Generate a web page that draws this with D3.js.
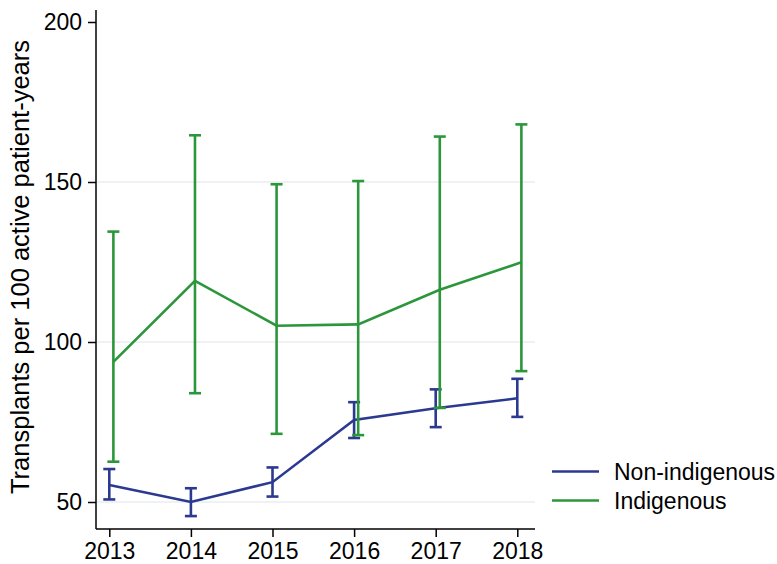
<!DOCTYPE html>
<html><head><meta charset="utf-8">
<script src="https://cdn.jsdelivr.net/npm/d3@7"></script>
<style>body{margin:0;background:#fff}svg{display:block;font-family:"Liberation Sans",Arial,sans-serif}</style>
</head><body>
<svg id="c" width="777" height="564"></svg>
<script>
const years = [2013, 2014, 2015, 2016, 2017, 2018];
const nonIndigenous = [55.3, 50.0, 56.2, 75.6, 79.3, 82.4];
const nonIndigenousLow = [50.8, 45.6, 51.7, 70.0, 73.4, 76.6];
const nonIndigenousHigh = [60.3, 54.3, 60.8, 81.2, 85.2, 88.5];
const indigenous = [93.8, 119.1, 105.1, 105.5, 116.3, 124.9];
const indigenousLow = [62.6, 84.0, 71.3, 70.9, 79.4, 90.9];
const indigenousHigh = [134.5, 164.6, 149.3, 150.3, 164.2, 168.0];
const yTicks = [50, 100, 150, 200];
const gridTicks = [50, 100, 150];
const seriesNames = ["Non-indigenous", "Indigenous"];
const colors = ["#2b3990", "#2c963b"];

(function () {
const svg = d3.select("#c");
const x = d3.scaleLinear().domain([2013, 2018]).range([109.3, 517.3]);
const y = d3.scaleLinear().domain([50, 200]).range([502, 22]);
const pL = 96, pR = 535, pT = 10, pB = 529;
const fs = 23;

// grid
svg.append("g").selectAll("line").data(gridTicks).join("line")
  .attr("x1", pL).attr("x2", pR)
  .attr("y1", d => y(d)).attr("y2", d => y(d))
  .attr("stroke", "#eaeef1").attr("stroke-width", 1.5);

// axes
const yAxis = svg.append("g").attr("transform", `translate(${pL},0)`)
  .call(d3.axisLeft(y).tickValues(yTicks).tickSize(8).tickPadding(6).tickFormat(d3.format("d")));
yAxis.select(".domain").remove();
yAxis.append("line").attr("x1", 0).attr("x2", 0).attr("y1", pT).attr("y2", pB)
  .attr("stroke", "#000").attr("stroke-width", 1.5);
yAxis.selectAll(".tick line").attr("stroke", "#000").attr("stroke-width", 1.5);
yAxis.selectAll(".tick text").attr("font-size", fs).attr("fill", "#000")
  .attr("font-family", "Liberation Sans, Arial, sans-serif");

const xAxis = svg.append("g").attr("transform", `translate(0,${pB})`)
  .call(d3.axisBottom(x).tickValues(years).tickSize(8).tickPadding(6).tickFormat(d3.format("d")));
xAxis.select(".domain").remove();
xAxis.append("line").attr("x1", pL).attr("x2", pR).attr("y1", 0).attr("y2", 0)
  .attr("stroke", "#000").attr("stroke-width", 1.5);
xAxis.selectAll(".tick line").attr("stroke", "#000").attr("stroke-width", 1.5);
xAxis.selectAll(".tick text").attr("font-size", fs).attr("fill", "#000")
  .attr("font-family", "Liberation Sans, Arial, sans-serif");

// y label
svg.append("text")
  .attr("transform", `translate(29,267) rotate(-90)`)
  .attr("text-anchor", "middle").attr("font-size", 25.5).attr("fill", "#000")
  .text("Transplants per 100 active patient-years");

// series
const series = [
  {name: seriesNames[0], mid: nonIndigenous, lo: nonIndigenousLow, hi: nonIndigenousHigh, color: colors[0], off: 0},
  {name: seriesNames[1], mid: indigenous, lo: indigenousLow, hi: indigenousHigh, color: colors[1], off: 0.05}
];
const capW = 6;
series.forEach(s => {
  const pts = years.map((yr, i) => ({x: x(yr + s.off), m: s.mid[i], l: s.lo[i], h: s.hi[i]}));
  const g = svg.append("g");
  g.selectAll("line.eb").data(pts).join("line").attr("class", "eb")
    .attr("x1", d => d.x).attr("x2", d => d.x).attr("y1", d => y(d.l)).attr("y2", d => y(d.h))
    .attr("stroke", s.color).attr("stroke-width", 2.6);
  ["l", "h"].forEach(k => {
    g.selectAll("line.c" + k).data(pts).join("line").attr("class", "c" + k)
      .attr("x1", d => d.x - capW).attr("x2", d => d.x + capW)
      .attr("y1", d => y(d[k])).attr("y2", d => y(d[k]))
      .attr("stroke", s.color).attr("stroke-width", 2.6);
  });
  g.append("path").datum(pts)
    .attr("d", d3.line().x(d => d.x).y(d => y(d.m)))
    .attr("fill", "none").attr("stroke", s.color).attr("stroke-width", 2.6);
});

// legend
const lg = svg.append("g");
series.forEach((s, i) => {
  const ly = 471.5 + i * 29;
  lg.append("line").attr("x1", 552).attr("x2", 599).attr("y1", ly).attr("y2", ly)
    .attr("stroke", s.color).attr("stroke-width", 2.6);
  lg.append("text").attr("x", 614).attr("y", ly).attr("dy", "0.35em")
    .attr("font-size", fs).attr("fill", "#000").text(s.name);
});
})();
</script>
</body></html>
